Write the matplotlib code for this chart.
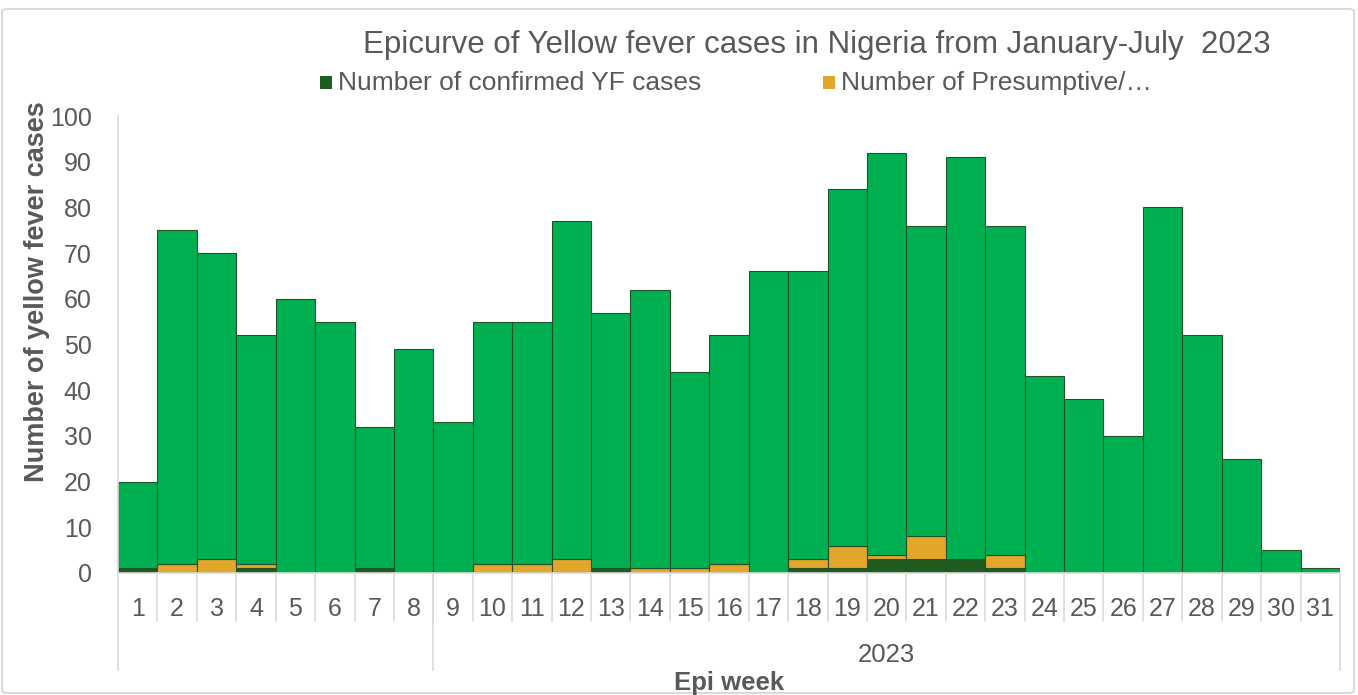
import numpy as np
import matplotlib.pyplot as plt
from matplotlib.patches import Rectangle, FancyBboxPatch
import matplotlib.transforms as mtransforms

plt.rcParams['font.family'] = ['Liberation Sans', 'DejaVu Sans']

weeks = list(range(1, 32))
totals = [20, 75, 70, 52, 60, 55, 32, 49, 33, 55, 55, 77, 57, 62, 44, 52,
          66, 66, 84, 92, 76, 91, 76, 43, 38, 30, 80, 52, 25, 5, 1]
confirmed = [1, 0, 0, 1, 0, 0, 1, 0, 0, 0, 0, 0, 1, 0, 0, 0,
             0, 1, 1, 3, 3, 3, 1, 0, 0, 0, 0, 0, 0, 0, 0]
presumptive = [0, 2, 3, 1, 0, 0, 0, 0, 0, 2, 2, 3, 0, 1, 1, 2,
               0, 2, 5, 1, 5, 0, 3, 0, 0, 0, 0, 0, 0, 0, 0]
other = [t - c - p for t, c, p in zip(totals, confirmed, presumptive)]
year_label = "2023"

c_conf = '#1e5c20'
c_pres = '#e2a62a'
c_other = '#00b050'
edge = '#24502a'
txt = '#595959'

fig = plt.figure(figsize=(13.58, 6.95), dpi=100)
# chart area border
fig.patches.append(FancyBboxPatch((2/1358, 2/695), 1352/1358, 1-11/695, boxstyle="round,pad=0,rounding_size=0.004",
                                  transform=fig.transFigure, fill=False, edgecolor='#d9d9d9', lw=1.5))
ax = fig.add_axes([118/1358, 1-573/695, (1340-118)/1358, (573-116)/695])

x = np.array(weeks)
pb = np.array(confirmed)
ax.bar(x, confirmed, width=1, color=c_conf, edgecolor=edge, linewidth=0.8)
ax.bar(x, presumptive, width=1, bottom=pb, color=c_pres, edgecolor=edge, linewidth=0.8)
ax.bar(x, other, width=1, bottom=pb + np.array(presumptive), color=c_other, edgecolor=edge, linewidth=0.8)

ax.set_xlim(0.5, 31.5)
ax.set_ylim(0, 100)
ax.set_yticks(range(0, 101, 10))
ax.tick_params(axis='y', length=0, labelsize=18, labelcolor=txt, pad=19)
ax.set_xticks(weeks)
ax.set_xticklabels([str(w) for w in weeks])
ax.tick_params(axis='x', length=0, labelsize=18, labelcolor=txt, pad=17)
for s in ['top', 'right']:
    ax.spines[s].set_visible(False)
ax.spines['left'].set_color('#d9d9d9')
ax.spines['bottom'].set_color('#d9d9d9')
ax.spines['left'].set_linewidth(1.2)
ax.spines['bottom'].set_linewidth(1.2)

# multi-level category separators
tr = mtransforms.blended_transform_factory(ax.transData, ax.transAxes)
short = -(621-573)/457
long_ = -(670-573)/457
for b in np.arange(1.5, 31.5, 1):
    ax.plot([b, b], [0, short], color='#d9d9d9', lw=1.2, transform=tr, clip_on=False)
for b in [0.5, 8.5, 31.5]:
    ax.plot([b, b], [0, long_], color='#d9d9d9', lw=1.2, transform=tr, clip_on=False)
ax.text((8.5 + 31.5)/2, -(655-573)/457, year_label, transform=tr, ha='center', va='center',
        fontsize=18.5, color=txt)

fig.text(817/1358, 1-45/695, "Epicurve of Yellow fever cases in Nigeria from January-July  2023",
         ha='center', va='center', fontsize=22.5, color=txt)

# legend
for sx, col, label in [(320, c_conf, "Number of confirmed YF cases"),
                       (823, c_pres, "Number of Presumptive/\u2026")]:
    fig.patches.append(Rectangle((sx/1358, 1-89/695), 12/1358, 13/695, transform=fig.transFigure,
                                 facecolor=col, edgecolor='none'))
    fig.text((sx+18)/1358, 1-83/695, label, ha='left', va='center', fontsize=19, color=txt)

fig.text(37/1358, 1-292/695, "Number of yellow fever cases", rotation=90, ha='center', va='center',
         fontsize=19.5, fontweight='bold', color=txt)
fig.text(729/1358, 1-683/695, "Epi week", ha='center', va='center', fontsize=18.5,
         fontweight='bold', color=txt)

fig.savefig('out.png', dpi=100)
